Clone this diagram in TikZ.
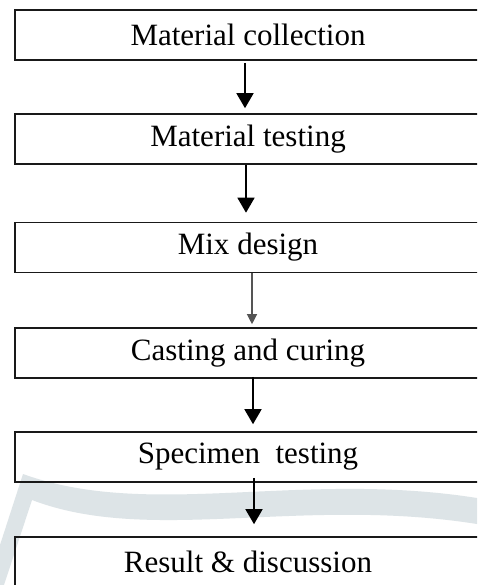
\documentclass[tikz,border=0pt]{standalone}
\usepackage{fontspec}
\setmainfont{Liberation Serif}
\usepackage{tikz}
\usetikzlibrary{arrows.meta, calc, positioning}
\definecolor{markgray}{HTML}{DDE4E7}
\definecolor{linegray}{HTML}{555555}

\begin{document}
\begin{tikzpicture}[x=1pt, y=-1pt,
    stepbox/.style={draw=black!90, line width=1.6pt, minimum width=466pt, minimum height=50pt,
        inner sep=0pt, font=\fontsize{31}{36}\selectfont},
    flow/.style={-{Triangle[width=17pt,length=15pt]}, line width=1.6pt, black},
    thinflow/.style={-{Triangle[width=10pt,length=10pt]}, line width=1.2pt, linegray}]
    \useasboundingbox (0,0) rectangle (477,585);
    \clip (0,0) rectangle (477,585);
    \fill[white] (0,0) rectangle (477,585);
    % faint watermark swoosh
    \fill[markgray] (0,545)--(23,474) .. controls (150,520) and (300,470) .. (477,498)
        --(477,524) .. controls (300,496) and (150,545) .. (32,500)--(4,585)--(0,585)--cycle;
    % steps
    \node[stepbox] (collect) at (248,35) {Material collection};
    \node[stepbox] (mtest) at (248,139) {Material testing};
    \node[stepbox] (mix) at (248,247.5) {Mix design};
    \node[stepbox] (cast) at (248,353) {Casting and curing};
    \node[stepbox] (stest) at (248,457) {Specimen~~testing};
    \node[stepbox] (result) at (248,562) {Result \& discussion};
    % arrows
    \draw[flow] ([xshift=-3pt, yshift=-2pt]collect.south) -- ([xshift=-3pt, yshift=5pt]mtest.north);
    \draw[flow] ([xshift=-2pt]mtest.south) -- ([xshift=-2pt, yshift=9pt]mix.north);
    \draw[thinflow] ([xshift=4pt]mix.south) -- ([xshift=4pt, yshift=3pt]cast.north);
    \draw[flow] ([xshift=5pt, yshift=2pt]cast.south) -- ([xshift=5pt, yshift=7pt]stest.north);
    \draw[flow] ([xshift=6pt, yshift=5pt]stest.south) -- ([xshift=6pt, yshift=12pt]result.north);
\end{tikzpicture}
\end{document}
